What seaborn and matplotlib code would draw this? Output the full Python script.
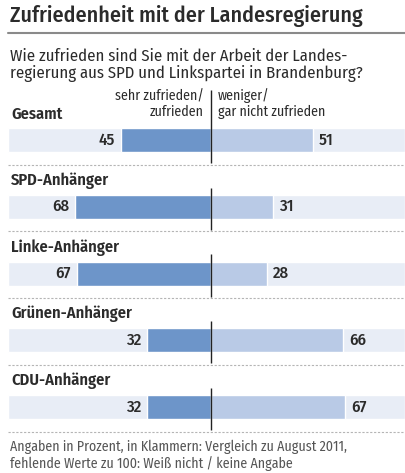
import numpy as np
import pandas as pd
import matplotlib
matplotlib.use("Agg")
import matplotlib.pyplot as plt
from matplotlib.lines import Line2D
import seaborn as sns

# Data
groups = ["Gesamt", "SPD-Anhänger", "Linke-Anhänger", "Grünen-Anhänger", "CDU-Anhänger"]
zufrieden = [45, 68, 67, 32, 32]
unzufrieden = [51, 31, 28, 66, 67]

title = "Zufriedenheit mit der Landesregierung"
subtitle = "Wie zufrieden sind Sie mit der Arbeit der Landes-\nregierung aus SPD und Linkspartei in Brandenburg?"
left_head = "sehr zufrieden/\nzufrieden"
right_head = "weniger/\ngar nicht zufrieden"
footnote = "Angaben in Prozent, in Klammern: Vergleich zu August 2011,\nfehlende Werte zu 100: Weiß nicht / keine Angabe"

dark = "#6d95c9"
light = "#b9cae6"
band = "#e8edf6"
txt = "#2b2b2b"

sns.set_theme(style="white")
plt.rcParams["font.family"] = ["Fira Sans Condensed", "PT Sans Narrow", "DejaVu Sans"]

W, H = 405, 473
fig = plt.figure(figsize=(W / 100, H / 100), dpi=100)
ax = fig.add_axes([0, 0, 1, 1])

df = pd.DataFrame({"group": groups, "zufrieden": zufrieden, "unzufrieden": unzufrieden})
df["links"] = -df["zufrieden"]
n = len(groups)

# 2 px per percent point, zero line at x=211px; rows every 66.75px starting at 140px
x0, ppu = 211, 2.0
y0, row = 140, 66.75
xlim = (-x0 / ppu, (W - x0) / ppu)
ylim = ((H - y0) / row, -y0 / row)
bw = 24 / row

band_left = xlim[0] + 8 / ppu
ax.barh(np.arange(n), width=xlim[1] - band_left, left=band_left, height=bw, color=band, zorder=0)
sns.barplot(data=df, x="links", y="group", orient="h", color=dark, saturation=1,
            width=bw, ax=ax, zorder=2)
sns.barplot(data=df, x="unzufrieden", y="group", orient="h", color=light, saturation=1,
            width=bw, ax=ax, zorder=2)

for i, (z, u) in enumerate(zip(zufrieden, unzufrieden)):
    ax.text(-z - 3, i, str(z), ha="right", va="center", fontsize=12,
            fontweight="medium", color=txt)
    ax.text(u + 3, i, str(u), ha="left", va="center", fontsize=12,
            fontweight="medium", color=txt)
    ax.text(band_left + 1.5, i - 0.39, groups[i], ha="left", va="center",
            fontsize=11.8, fontweight="semibold", color=txt)
    top = -0.75 if i == 0 else -0.285
    ax.vlines(0, i + top, i + 0.345, color="#222222", lw=1, zorder=3)
    ax.hlines(i + 0.37, band_left, xlim[1], color="#b5b5b5", lw=0.8,
              linestyles=(0, (2, 1.5)), zorder=1)

ax.text(-3.5, -0.54, left_head, ha="right", va="center", multialignment="right",
        fontsize=10, color=txt, linespacing=1.15)
ax.text(3.5, -0.54, right_head, ha="left", va="center", fontsize=10, color=txt,
        linespacing=1.15)

ax.set_xlim(xlim)
ax.set_ylim(ylim)
ax.axis("off")

fig.text(10 / W, 1 - 16 / H, title, ha="left", va="center", fontsize=15.8,
         fontweight="medium", color=txt)
fig.add_artist(Line2D([8 / W, 1], [1 - 33 / H] * 2, color="#8a8a8a", lw=1.5))
fig.text(10 / W, 1 - 65.5 / H, subtitle, ha="left", va="center", fontsize=12,
         color=txt, linespacing=1.05)
fig.text(10 / W, 1 - 455 / H, footnote, ha="left", va="center", fontsize=10,
         color="#555555", linespacing=1.15)

fig.savefig("out.png", dpi=100)
